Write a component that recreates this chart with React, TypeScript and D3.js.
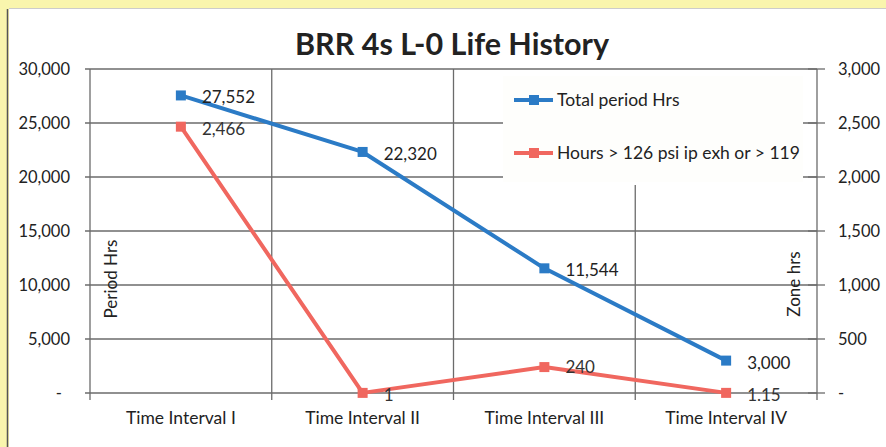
import React from "react";
import * as d3 from "d3";

const categories = ["Time Interval I", "Time Interval II", "Time Interval III", "Time Interval IV"];
const totalHrs = [27552, 22320, 11544, 3000];
const totalLabels = ["27,552", "22,320", "11,544", "3,000"];
const zoneHrs = [2466, 1, 240, 1.15];
const zoneLabels = ["2,466", "1", "240", "1.15"];
const leftTicks = [0, 5000, 10000, 15000, 20000, 25000, 30000];
const rightTicks = [0, 500, 1000, 1500, 2000, 2500, 3000];
const seriesNames = ["Total period Hrs", "Hours > 126 psi ip exh or > 119"];

const W = 886, H = 447;
const BLUE = "#2b7bc6";
const RED = "#f0675f";
const GRID = "#6b6b6b";
const FONT = "Lato, 'Open Sans', sans-serif";

export default function App() {
  const left = 90, right = 817, top = 69, bottom = 393;
  const x = d3.scaleBand().domain(categories).range([left, right]);
  const yL = d3.scaleLinear().domain([0, 30000]).range([bottom, top]);
  const yR = d3.scaleLinear().domain([0, 3000]).range([bottom, top]);
  const fmt = (v: number) => (v === 0 ? "-" : d3.format(",")(v));
  const cx = (c: string) => (x(c) as number) + x.bandwidth() / 2;
  const lineL = d3.line<number>().x((_, i) => cx(categories[i])).y((d) => yL(d));
  const lineR = d3.line<number>().x((_, i) => cx(categories[i])).y((d) => yR(d));
  const vlines = [...categories.map((c) => x(c) as number), right];

  return (
    <svg width={W} height={H} style={{ position: "absolute", left: 0, top: 0 }} fontFamily={FONT}>
      <rect width={W} height={H} fill="#f9f5ad" />
      <rect x={9} y={9} width={W - 9} height={H - 9} fill="#ffffff" />
      <line x1={7.5} y1={9} x2={7.5} y2={H} stroke="#555" strokeWidth={1.5} />
      <line x1={9} y1={8.5} x2={W} y2={8.5} stroke="#ccc" strokeWidth={1} />

      <text x={452} y={55} textAnchor="middle" fontSize={30.5} fontWeight="bold" fill="#222">BRR 4s L-0 Life History</text>

      {leftTicks.map((t) => (
        <line key={"h" + t} x1={left - 5} x2={right} y1={yL(t)} y2={yL(t)} stroke={GRID} strokeWidth={1.3} />
      ))}
      {vlines.map((v, i) => (
        <line key={"v" + i} x1={v} x2={v} y1={i === 3 ? 185 : top} y2={bottom + 7} stroke={GRID} strokeWidth={1.3} />
      ))}
      {rightTicks.map((t) => (
        <line key={"rt" + t} x1={right - 9} x2={right + 8} y1={yR(t)} y2={yR(t)} stroke={GRID} strokeWidth={1.3} />
      ))}

      {leftTicks.map((t) => (
        <text key={"lt" + t} x={t === 0 ? 62 : 70} y={yL(t)} dy="0.35em" textAnchor="end" fontSize={16.5} fill="#222">{fmt(t)}</text>
      ))}
      {rightTicks.map((t) => (
        <text key={"rl" + t} x={838} y={yR(t)} dy="0.35em" textAnchor="start" fontSize={16.5} fill="#222">{fmt(t)}</text>
      ))}
      {categories.map((c) => (
        <text key={c} x={cx(c)} y={418} dy="0.35em" textAnchor="middle" fontSize={17.5} fill="#222">{c}</text>
      ))}

      <text transform={`translate(117,279) rotate(-90)`} textAnchor="middle" fontSize={17} fill="#222">Period Hrs</text>
      <text transform={`translate(800,284) rotate(-90)`} textAnchor="middle" fontSize={17} fill="#222">Zone hrs</text>

      <rect x={503} y={76} width={300} height={106} fill="#fefefc" />
      <line x1={514} x2={553} y1={100} y2={100} stroke={BLUE} strokeWidth={4} />
      <rect x={529} y={95} width={10} height={10} fill={BLUE} />
      <text x={557} y={100} dy="0.35em" fontSize={17.5} fill="#222">{seriesNames[0]}</text>
      <line x1={514} x2={553} y1={153} y2={153} stroke={RED} strokeWidth={4} />
      <rect x={529} y={148} width={10} height={10} fill={RED} />
      <text x={557} y={153} dy="0.35em" fontSize={17.5} fill="#222">{seriesNames[1]}</text>

      <path d={lineR(zoneHrs) || ""} fill="none" stroke={RED} strokeWidth={4} strokeLinejoin="round" />
      {zoneHrs.map((v, i) => (
        <rect key={"rm" + i} x={cx(categories[i]) - 5} y={yR(v) - 5} width={10} height={10} fill={RED} />
      ))}
      <path d={lineL(totalHrs) || ""} fill="none" stroke={BLUE} strokeWidth={4} strokeLinejoin="round" />
      {totalHrs.map((v, i) => (
        <rect key={"bm" + i} x={cx(categories[i]) - 5} y={yL(v) - 5} width={10} height={10} fill={BLUE} />
      ))}

      {totalHrs.map((v, i) => (
        <text key={"bl" + i} x={cx(categories[i]) + 21} y={yL(v) + 2} dy="0.35em" fontSize={17} fill="#222">{totalLabels[i]}</text>
      ))}
      {zoneHrs.map((v, i) => (
        <text key={"zl" + i} x={cx(categories[i]) + 21} y={yR(v) + (i === 2 ? 0 : 2)} dy="0.35em" fontSize={17} fill="#333">{zoneLabels[i]}</text>
      ))}
    </svg>
  );
}
